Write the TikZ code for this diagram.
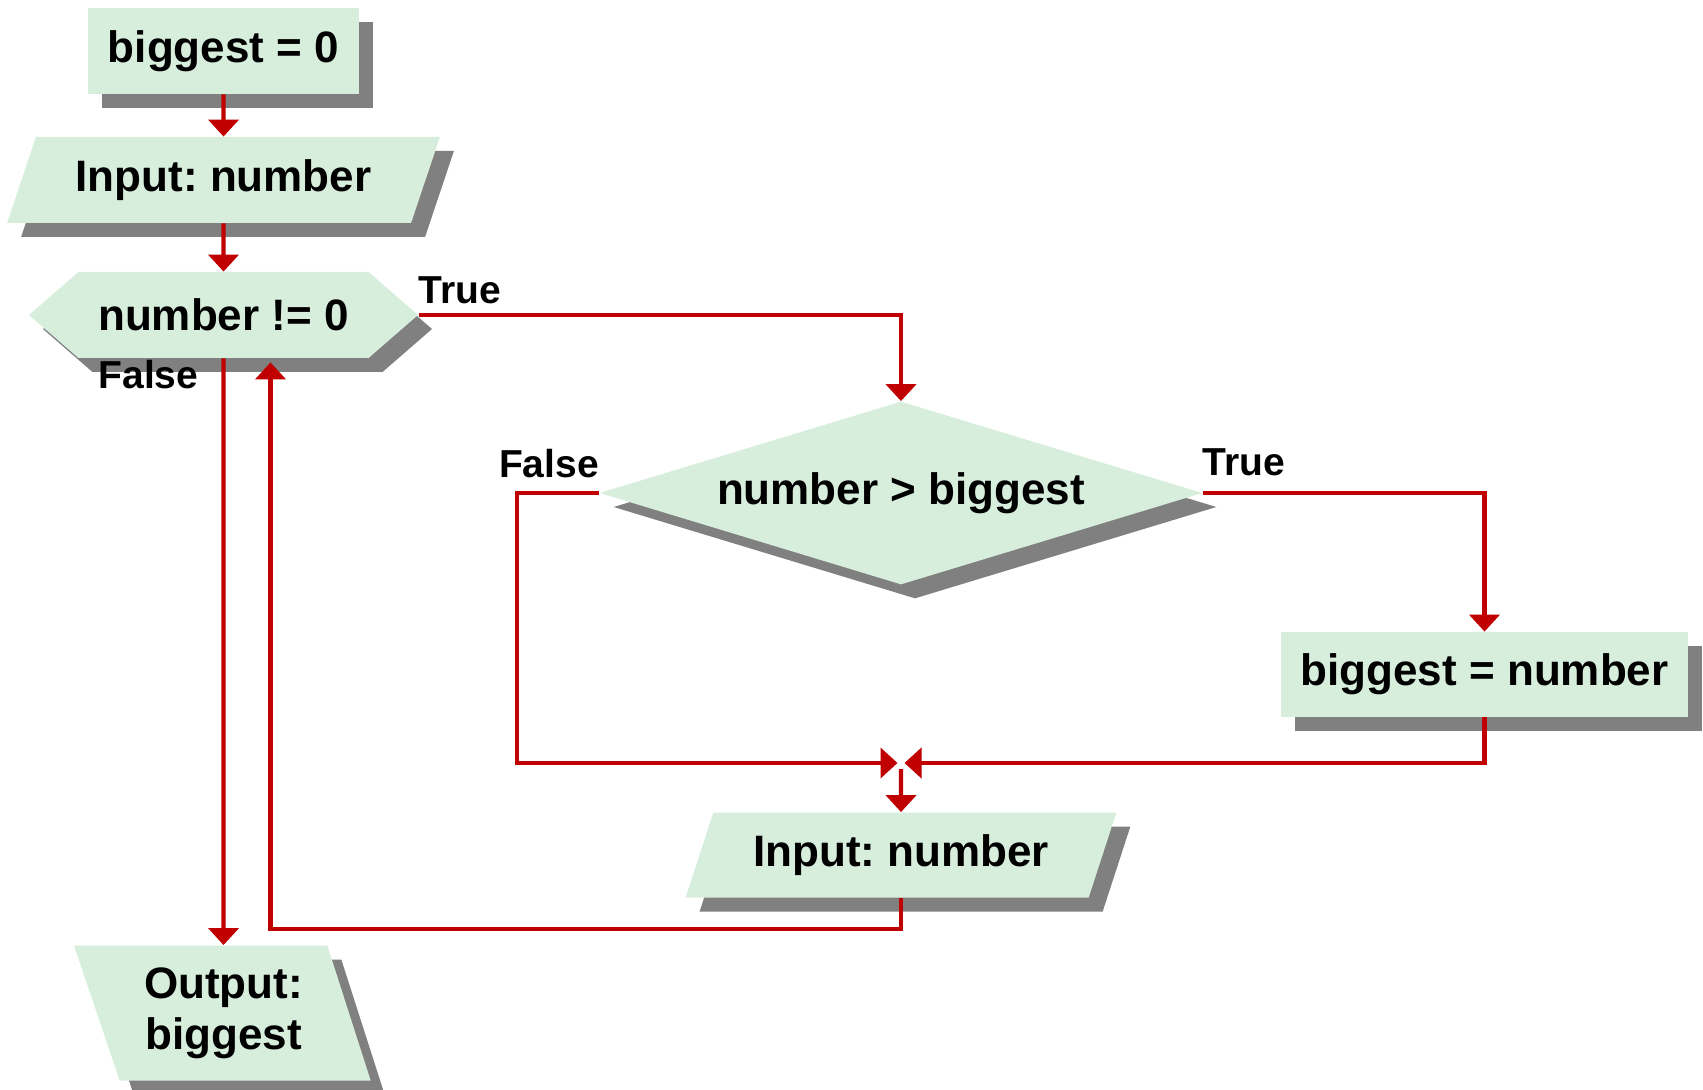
\documentclass[tikz,border=0pt]{standalone}
\usepackage{fontspec}
\setmainfont{Liberation Sans}
\usetikzlibrary{shapes.geometric,shapes.symbols,shadows,arrows.meta}
\frenchspacing

\definecolor{boxfill}{RGB}{216,238,221}
\definecolor{shadowgray}{RGB}{128,128,128}
\definecolor{flowred}{RGB}{192,0,0}

\tikzset{
  blk/.style={fill=boxfill, draw=none, inner sep=0pt, text=black,
    font=\fontsize{22}{25.5}\selectfont\bfseries,
    drop shadow={shadow xshift=7pt, shadow yshift=-7pt, fill=shadowgray, opacity=1}},
  procbox/.style={blk, rectangle},
  iobox/.style={blk, trapezium, trapezium stretches=true},
  decide/.style={blk, diamond},
  loopbox/.style={blk, signal, signal to=west and east},
  lbl/.style={font=\fontsize{19.5}{21}\selectfont\bfseries, inner sep=0pt, anchor=base, text=black},
  flow/.style={draw=flowred, line width=2.1pt, -{Triangle[length=8.5pt,width=15pt]}}
}

\begin{document}
\begin{tikzpicture}[x=0.5pt,y=-0.5pt]
\useasboundingbox (0,0) rectangle (1703,1090);

% process steps
\node[procbox, minimum width=135.5pt, minimum height=43pt] (init) at (223.5,51) {biggest = 0};
\node[iobox, trapezium left angle=61, trapezium right angle=119,
      minimum width=216.5pt, minimum height=43pt] (read1) at (223.5,180) {Input: number};
\node[loopbox, signal pointer angle=82, minimum width=194.5pt, minimum height=43pt]
      (loop) at (223.5,315) {number != 0};
\node[decide, aspect=3.3, minimum width=301.5pt, minimum height=91.5pt]
      (cmp) at (901,493) {number > biggest};
\node[procbox, minimum width=203.5pt, minimum height=42.5pt] (upd) at (1484.5,674.5) {biggest = number};
\node[iobox, trapezium left angle=62, trapezium right angle=118,
      minimum width=215.5pt, minimum height=42.5pt] (read2) at (901,855) {Input: number};
\node[iobox, trapezium left angle=111, trapezium right angle=70, align=center,
      minimum width=148.5pt, minimum height=67.5pt] (out) at (223.5,1013) {Output:\\biggest};

% branch labels
\node[lbl] (t1) at (460,304) {True};
\node[lbl] (f1) at (148.5,389) {False};
\node[lbl] (f2) at (549,478) {False};
\node[lbl] (t2) at (1243.5,476) {True};

% junction above the second input
\coordinate (joinL) at (897.5,763);
\coordinate (joinR) at (904.5,763);
\coordinate (joinS) at (901,769);

% connectors
\draw[flow] (init) -- (read1);
\draw[flow] (read1) -- (loop);
\draw[flow] (loop.east) -| (cmp.north);
\draw[flow] (loop.south) -- (out.north);
\draw[flow] (cmp.west) -- ++(-82,0) |- (joinL);
\draw[flow] (cmp.east) -| (upd.north);
\draw[flow] (upd.south) |- (joinR);
\draw[flow] (joinS) -- (read2.north);
\draw[flow] (read2.south) -- ++(0,31) -| ([xshift=23.5pt,yshift=-2pt]loop.south);
\end{tikzpicture}
\end{document}
